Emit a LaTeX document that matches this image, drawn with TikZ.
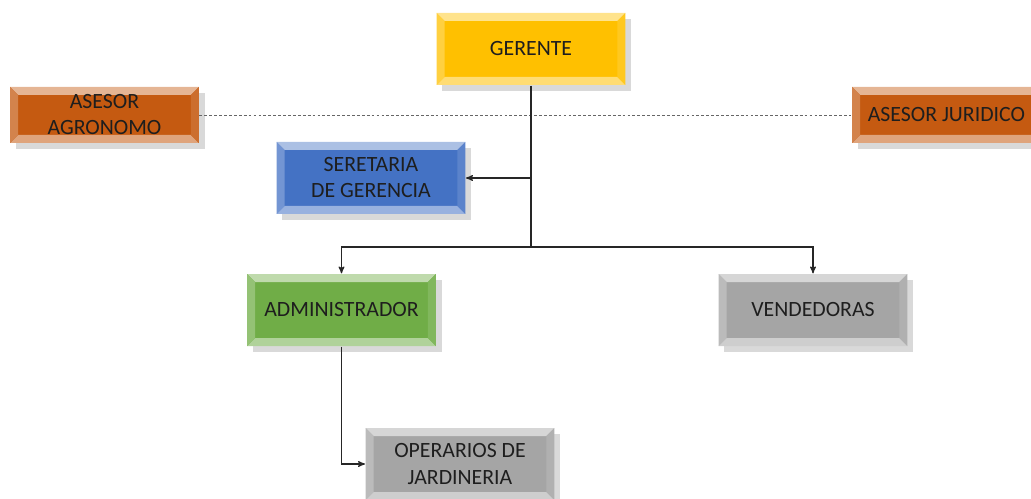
\documentclass[tikz,border=0pt]{standalone}
\usepackage{fontspec}
\setmainfont{Carlito}
\usepackage{tikz}
\usetikzlibrary{arrows,shadows}
\definecolor{box_yellow}{RGB}{255,192,0}
\definecolor{box_orange}{RGB}{197,90,17}
\definecolor{box_blue}{RGB}{68,114,196}
\definecolor{box_green}{RGB}{112,173,71}
\definecolor{box_gray}{RGB}{165,165,165}
\definecolor{text_dark}{RGB}{30,30,30}
\newcommand{\bw}{0.2cm}

\begin{document}
\begin{tikzpicture}[->,thick,>=stealth']
    \useasboundingbox (0,0) rectangle (25.775,-12.475);
    \tikzstyle{box}=[rectangle, minimum width=4.72cm, minimum height=1.8cm, align=center,
      text=text_dark, font=\fontsize{15.5}{18.5}\selectfont, fill=#1,
      drop shadow={shadow xshift=4pt, shadow yshift=-4pt, opacity=0.3, fill=gray},
      path picture={
        \coordinate (nw) at (path picture bounding box.north west);
        \coordinate (ne) at (path picture bounding box.north east);
        \coordinate (sw) at (path picture bounding box.south west);
        \coordinate (se) at (path picture bounding box.south east);
        \fill[#1!45!white] (nw) -- (ne) -- ([shift={(-\bw,-\bw)}]ne) -- ([shift={(\bw,-\bw)}]nw) -- cycle;
        \fill[#1!55!white] (sw) -- (se) -- ([shift={(-\bw,\bw)}]se) -- ([shift={(\bw,\bw)}]sw) -- cycle;
        \fill[#1!75!white] (nw) -- ([shift={(\bw,-\bw)}]nw) -- ([shift={(\bw,\bw)}]sw) -- (sw) -- cycle;
        \fill[#1!88!white] (ne) -- ([shift={(-\bw,-\bw)}]ne) -- ([shift={(-\bw,\bw)}]se) -- (se) -- cycle;
      }]
    \tikzstyle{link}=[draw=black!85]

    \node[box=box_yellow]                       (ger)  at (13.275,-1.225)  {GERENTE};
    \node[box=box_orange, minimum height=1.4cm] (agro) at (2.6125,-2.875)  {ASESOR\\AGRONOMO};
    \node[box=box_orange, minimum height=1.4cm] (jur)  at (23.66,-2.875)   {ASESOR JURIDICO};
    \node[box=box_blue]                         (sec)  at (9.275,-4.45)    {SERETARIA\\DE GERENCIA};
    \node[box=box_green]                        (adm)  at (8.5375,-7.75)   {ADMINISTRADOR};
    \node[box=box_gray]                         (ven)  at (20.325,-7.75)   {VENDEDORAS};
    \node[box=box_gray]                         (ope)  at (11.5,-11.6)     {OPERARIOS DE\\JARDINERIA};
    \coordinate (split) at (13.275,-6.175);

    \path[-, draw=black!60, thin, dash pattern=on 2pt off 1.5pt] (agro) -- (jur);
    \path[link, -] (ger) -- (split);
    \path[link] (ger.south |- sec.east) -- (sec.east);
    \path[link] (split) -| (adm.north);
    \path[link] (split) -| (ven.north);
    \path[link] (adm.south) |- (ope.west);
\end{tikzpicture}
\end{document}
